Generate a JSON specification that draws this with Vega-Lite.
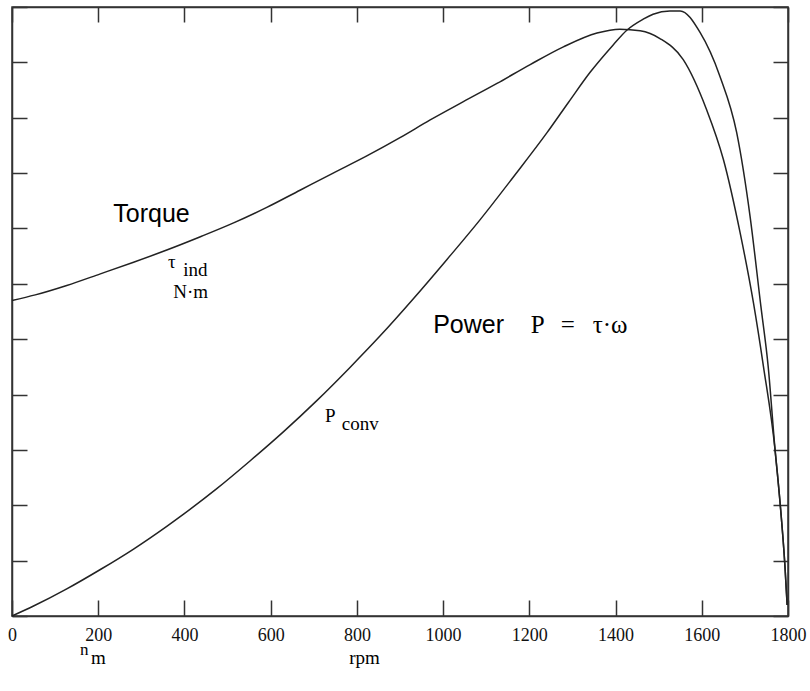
{
  "$schema": "https://vega.github.io/schema/vega-lite/v6.json",
  "width": 776,
  "height": 609,
  "autosize": "none",
  "padding": {"left": 12, "top": 7, "right": 22, "bottom": 75},
  "background": "white",
  "data": {"values": [{}]},
  "config": {
    "view": {"stroke": "#333", "strokeWidth": 1.5},
    "font": "Liberation Serif",
    "axis": {"grid": false, "domainColor": "#333", "domainWidth": 1.5, "tickColor": "#333", "tickWidth": 1.5, "labelColor": "#111", "labelFont": "Liberation Serif", "labelFontSize": 18, "title": null}
  },
  "datasets": {
    "curves": [
      {"series": "torque", "rpm": 0, "value": 5.70},
      {"series": "torque", "rpm": 54, "value": 5.80},
      {"series": "torque", "rpm": 127, "value": 5.97},
      {"series": "torque", "rpm": 205, "value": 6.18},
      {"series": "torque", "rpm": 282, "value": 6.39},
      {"series": "torque", "rpm": 359, "value": 6.61},
      {"series": "torque", "rpm": 437, "value": 6.85},
      {"series": "torque", "rpm": 514, "value": 7.10},
      {"series": "torque", "rpm": 591, "value": 7.38},
      {"series": "torque", "rpm": 668, "value": 7.69},
      {"series": "torque", "rpm": 745, "value": 8.00},
      {"series": "torque", "rpm": 823, "value": 8.31},
      {"series": "torque", "rpm": 900, "value": 8.64},
      {"series": "torque", "rpm": 970, "value": 8.96},
      {"series": "torque", "rpm": 1047, "value": 9.29},
      {"series": "torque", "rpm": 1125, "value": 9.62},
      {"series": "torque", "rpm": 1202, "value": 9.96},
      {"series": "torque", "rpm": 1279, "value": 10.28},
      {"series": "torque", "rpm": 1357, "value": 10.53},
      {"series": "torque", "rpm": 1410, "value": 10.60},
      {"series": "torque", "rpm": 1457, "value": 10.57},
      {"series": "torque", "rpm": 1503, "value": 10.43},
      {"series": "torque", "rpm": 1557, "value": 10.05},
      {"series": "torque", "rpm": 1611, "value": 9.15},
      {"series": "torque", "rpm": 1650, "value": 8.25},
      {"series": "torque", "rpm": 1689, "value": 6.92},
      {"series": "torque", "rpm": 1720, "value": 5.65},
      {"series": "torque", "rpm": 1743, "value": 4.51},
      {"series": "torque", "rpm": 1770, "value": 3.0},
      {"series": "torque", "rpm": 1781, "value": 2.1},
      {"series": "torque", "rpm": 1793, "value": 0.89},
      {"series": "torque", "rpm": 1798, "value": 0.2},
      {"series": "power", "rpm": 0, "value": 0},
      {"series": "power", "rpm": 50, "value": 0.18},
      {"series": "power", "rpm": 127, "value": 0.49},
      {"series": "power", "rpm": 205, "value": 0.84},
      {"series": "power", "rpm": 282, "value": 1.21},
      {"series": "power", "rpm": 359, "value": 1.62},
      {"series": "power", "rpm": 398, "value": 1.84},
      {"series": "power", "rpm": 475, "value": 2.30},
      {"series": "power", "rpm": 552, "value": 2.80},
      {"series": "power", "rpm": 630, "value": 3.33},
      {"series": "power", "rpm": 707, "value": 3.89},
      {"series": "power", "rpm": 784, "value": 4.49},
      {"series": "power", "rpm": 854, "value": 5.06},
      {"series": "power", "rpm": 931, "value": 5.73},
      {"series": "power", "rpm": 1009, "value": 6.44},
      {"series": "power", "rpm": 1086, "value": 7.16},
      {"series": "power", "rpm": 1163, "value": 7.93},
      {"series": "power", "rpm": 1241, "value": 8.73},
      {"series": "power", "rpm": 1291, "value": 9.28},
      {"series": "power", "rpm": 1341, "value": 9.82},
      {"series": "power", "rpm": 1394, "value": 10.31},
      {"series": "power", "rpm": 1426, "value": 10.58},
      {"series": "power", "rpm": 1464, "value": 10.78},
      {"series": "power", "rpm": 1487, "value": 10.87},
      {"series": "power", "rpm": 1526, "value": 10.93},
      {"series": "power", "rpm": 1550, "value": 10.93},
      {"series": "power", "rpm": 1596, "value": 10.54},
      {"series": "power", "rpm": 1642, "value": 9.75},
      {"series": "power", "rpm": 1681, "value": 8.73},
      {"series": "power", "rpm": 1712, "value": 7.22},
      {"series": "power", "rpm": 1737, "value": 5.6},
      {"series": "power", "rpm": 1754, "value": 4.51},
      {"series": "power", "rpm": 1770, "value": 3.0},
      {"series": "power", "rpm": 1781, "value": 2.1},
      {"series": "power", "rpm": 1793, "value": 0.89},
      {"series": "power", "rpm": 1798, "value": 0.2}
    ]
  },
  "resolve": {"axis": {"x": "independent", "y": "independent"}},
  "layer": [
    {
      "data": {"name": "curves"},
      "mark": {"type": "line", "color": "#222", "strokeWidth": 1.5, "interpolate": "monotone"},
      "encoding": {
        "x": {"field": "rpm", "type": "quantitative", "scale": {"domain": [0, 1800], "nice": false, "zero": false},
              "axis": {"orient": "bottom", "values": [0, 200, 400, 600, 800, 1000, 1200, 1400, 1600, 1800], "format": "d", "tickSize": -16, "labelPadding": 26, "labelFlush": false, "labelOverlap": false}},
        "y": {"field": "value", "type": "quantitative", "scale": {"domain": [0, 11], "nice": false, "zero": false},
              "axis": {"orient": "left", "values": [0, 1, 2, 3, 4, 5, 6, 7, 8, 9, 10, 11], "tickSize": -15, "labels": false}},
        "detail": {"field": "series"}
      }
    },
    {
      "data": {"name": "curves"},
      "mark": {"type": "line", "opacity": 0},
      "encoding": {
        "x": {"field": "rpm", "type": "quantitative",
              "axis": {"orient": "top", "values": [0, 200, 400, 600, 800, 1000, 1200, 1400, 1600, 1800], "tickSize": -15, "labels": false}},
        "y": {"field": "value", "type": "quantitative",
              "axis": {"orient": "right", "values": [0, 1, 2, 3, 4, 5, 6, 7, 8, 9, 10, 11], "tickSize": -15, "labels": false}},
        "detail": {"field": "series"}
      }
    },
    {
      "mark": {"type": "text", "font": "Liberation Sans", "fontSize": 25, "align": "left", "baseline": "alphabetic", "color": "#000"},
      "encoding": {"x": {"datum": 235, "type": "quantitative", "axis": null}, "y": {"datum": 7.12, "type": "quantitative", "axis": null}, "text": {"value": "Torque"}}
    },
    {
      "mark": {"type": "text", "font": "Liberation Sans", "fontSize": 25, "align": "left", "baseline": "alphabetic", "color": "#000"},
      "encoding": {"x": {"datum": 977, "type": "quantitative", "axis": null}, "y": {"datum": 5.11, "type": "quantitative", "axis": null}, "text": {"value": "Power"}}
    },
    {
      "mark": {"type": "text", "font": "Liberation Serif", "fontSize": 25, "align": "left", "baseline": "alphabetic", "color": "#000"},
      "encoding": {"x": {"datum": 1203, "type": "quantitative", "axis": null}, "y": {"datum": 5.11, "type": "quantitative", "axis": null}, "text": {"value": "P"}}
    },
    {
      "mark": {"type": "text", "font": "Liberation Serif", "fontSize": 25, "align": "left", "baseline": "alphabetic", "color": "#000"},
      "encoding": {"x": {"datum": 1273, "type": "quantitative", "axis": null}, "y": {"datum": 5.11, "type": "quantitative", "axis": null}, "text": {"value": "="}}
    },
    {
      "mark": {"type": "text", "font": "Liberation Serif", "fontSize": 25, "align": "left", "baseline": "alphabetic", "color": "#000"},
      "encoding": {"x": {"datum": 1347, "type": "quantitative", "axis": null}, "y": {"datum": 5.11, "type": "quantitative", "axis": null}, "text": {"value": "τ·ω"}}
    },
    {
      "mark": {"type": "text", "font": "Liberation Serif", "fontSize": 19, "align": "left", "baseline": "alphabetic", "color": "#000"},
      "encoding": {"x": {"datum": 362, "type": "quantitative", "axis": null}, "y": {"datum": 6.29, "type": "quantitative", "axis": null}, "text": {"value": "τ"}}
    },
    {
      "mark": {"type": "text", "font": "Liberation Serif", "fontSize": 19, "align": "left", "baseline": "alphabetic", "color": "#000"},
      "encoding": {"x": {"datum": 397, "type": "quantitative", "axis": null}, "y": {"datum": 6.14, "type": "quantitative", "axis": null}, "text": {"value": "ind"}}
    },
    {
      "mark": {"type": "text", "font": "Liberation Serif", "fontSize": 19, "align": "left", "baseline": "alphabetic", "color": "#000"},
      "encoding": {"x": {"datum": 374, "type": "quantitative", "axis": null}, "y": {"datum": 5.75, "type": "quantitative", "axis": null}, "text": {"value": "N·m"}}
    },
    {
      "mark": {"type": "text", "font": "Liberation Serif", "fontSize": 19, "align": "left", "baseline": "alphabetic", "color": "#000"},
      "encoding": {"x": {"datum": 726, "type": "quantitative", "axis": null}, "y": {"datum": 3.51, "type": "quantitative", "axis": null}, "text": {"value": "P"}}
    },
    {
      "mark": {"type": "text", "font": "Liberation Serif", "fontSize": 19, "align": "left", "baseline": "alphabetic", "color": "#000"},
      "encoding": {"x": {"datum": 765, "type": "quantitative", "axis": null}, "y": {"datum": 3.36, "type": "quantitative", "axis": null}, "text": {"value": "conv"}}
    },
    {
      "mark": {"type": "text", "font": "Liberation Serif", "fontSize": 17, "align": "left", "baseline": "alphabetic", "color": "#000"},
      "encoding": {"x": {"datum": 158, "type": "quantitative", "axis": null}, "y": {"datum": -0.70, "type": "quantitative", "axis": null}, "text": {"value": "n"}}
    },
    {
      "mark": {"type": "text", "font": "Liberation Serif", "fontSize": 19, "align": "left", "baseline": "alphabetic", "color": "#000"},
      "encoding": {"x": {"datum": 183, "type": "quantitative", "axis": null}, "y": {"datum": -0.86, "type": "quantitative", "axis": null}, "text": {"value": "m"}}
    },
    {
      "mark": {"type": "text", "font": "Liberation Serif", "fontSize": 19, "align": "left", "baseline": "alphabetic", "color": "#000"},
      "encoding": {"x": {"datum": 782, "type": "quantitative", "axis": null}, "y": {"datum": -0.86, "type": "quantitative", "axis": null}, "text": {"value": "rpm"}}
    }
  ]
}
